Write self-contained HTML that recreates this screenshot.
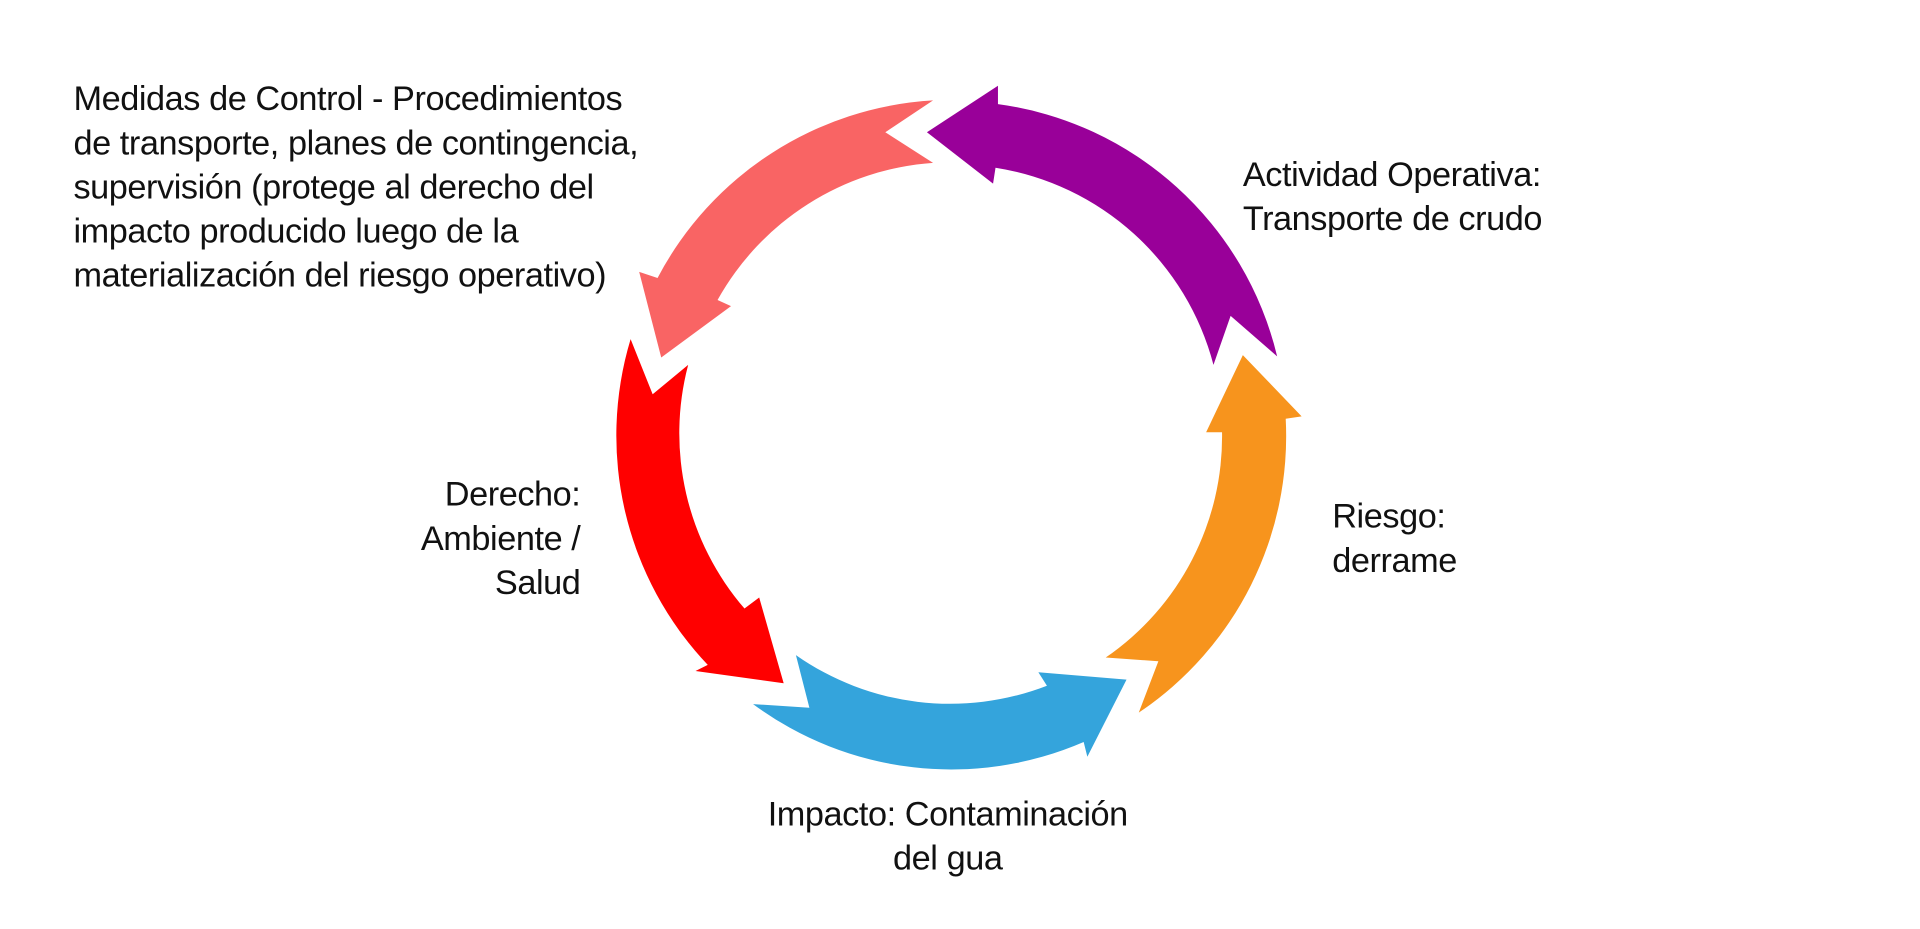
<!DOCTYPE html>
<html><head><meta charset="utf-8"><style>
html,body{margin:0;padding:0;background:#fff;width:1920px;height:929px;overflow:hidden}
svg{display:block}
text{font-family:"Liberation Sans Narrow","Liberation Sans",sans-serif;font-size:28px;fill:#111;letter-spacing:-0.35px}
</style></head><body>
<svg width="1920" height="929" viewBox="0 0 1568 758.7" preserveAspectRatio="none">
<path fill="#990099" d="M1043,291 A272,272 0 0 0 815,85 L815,70 L757,108 L811,150 L813,137 A219,219 0 0 1 991,298 L1005,258 Z"/>
<path fill="#F7941D" d="M930,582 A272,272 0 0 0 1050,342 L1063,340 L1015,290 L985,353 L998,353 A219,219 0 0 1 903,537 L946,540 Z"/>
<path fill="#F96464" d="M762,82 A272,272 0 0 0 537,227 L522,222 L540,292 L597,250 L586,245 A219,219 0 0 1 762,133 L723,108 Z"/>
<path fill="#FF0000" d="M515,277 A272,272 0 0 0 578,543 L568,548 L640,558 L620,488 L608,497 A219,219 0 0 1 562,298 L533,322 Z"/>
<path fill="#34A4DC" d="M615,575 A272,272 0 0 0 885,606 L888,618 L920,555 L848,549 L855,560 A219,219 0 0 1 650,535 L661,578 Z"/>
<text x="60" y="90">Medidas de Control - Procedimientos</text>
<text x="60" y="126">de transporte, planes de contingencia,</text>
<text x="60" y="162">supervisión (protege al derecho del</text>
<text x="60" y="198">impacto producido luego de la</text>
<text x="60" y="234">materialización del riesgo operativo)</text>
<text x="1015" y="152">Actividad Operativa:</text>
<text x="1015" y="188">Transporte de crudo</text>
<text x="1088" y="431">Riesgo:</text>
<text x="1088" y="467">derrame</text>
<text x="474" y="413" text-anchor="end">Derecho:</text>
<text x="474" y="449" text-anchor="end">Ambiente /</text>
<text x="474" y="485" text-anchor="end">Salud</text>
<text x="774" y="674" text-anchor="middle">Impacto: Contaminación</text>
<text x="774" y="710" text-anchor="middle">del gua</text>
</svg>
</body></html>
